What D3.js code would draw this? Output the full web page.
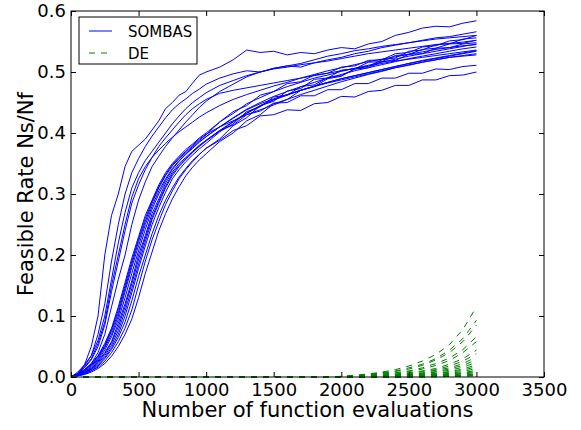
<!DOCTYPE html>
<html>
<head>
  <meta charset="utf-8">
  <title>Feasible rate - SOMBAS vs DE</title>
  <script src="https://d3js.org/d3.v7.min.js"></script>
  <style>
    body { margin: 0; background: #fff; font-family: 'DejaVu Sans', sans-serif; }
    .tick text { font-size: 18px; fill: #000; }
    .tick line { stroke: #000; }
    .axis-label { font-size: 21px; fill: #000; }
    .legend text { font-size: 15px; fill: #000; }
  </style>
</head>
<body>
<div id="chart"></div>
<script>
// evaluations at which the SOMBAS runs are sampled (finer during the rise)
var sombasEvals = [0,50,100,150,200,250,300,350,400,450,500,550,600,650,700,750,800,850,900,950,1000,
  1100,1200,1300,1400,1500,1600,1700,1800,1900,2000,2100,2200,2300,2400,2500,2600,2700,2800,2900,3000];
// evaluations at which the DE runs are sampled
var deEvals = [0, 1900, 2000, 2100, 2200, 2300, 2400, 2500, 2600, 2700, 2800, 2900, 3000];

var xTicks = [0, 500, 1000, 1500, 2000, 2500, 3000, 3500];
var yTicks = [0, 0.1, 0.2, 0.3, 0.4, 0.5, 0.6];

// fast-rising runs
var sombasFast = [
  [0,.005,.02,.05,.10,.20,.265,.30,.345,.37,.38,.39,.405,.42,.44,.45,.462,.468,.482,.495,.50,.508,.52,.536,.532,.534,.528,.532,.53,.536,.54,.538,.546,.55,.56,.565,.572,.575,.574,.58,.584],
  [0,.006,.018,.035,.07,.12,.19,.25,.30,.335,.358,.378,.395,.41,.425,.438,.448,.456,.465,.472,.48,.49,.497,.502,.50,.506,.51,.508,.515,.52,.524,.53,.534,.54,.544,.548,.552,.556,.558,.562,.566],
  [0,.008,.02,.035,.06,.10,.16,.22,.27,.31,.335,.355,.37,.385,.40,.415,.428,.44,.45,.458,.466,.478,.486,.494,.50,.505,.508,.512,.515,.518,.522,.526,.53,.533,.536,.539,.542,.545,.547,.549,.552],
  [0,.005,.015,.028,.05,.085,.14,.19,.24,.285,.315,.34,.36,.378,.392,.405,.418,.43,.44,.448,.455,.465,.47,.474,.478,.482,.486,.49,.494,.498,.502,.506,.51,.514,.518,.521,.524,.527,.53,.533,.536],
  [0,.004,.012,.022,.04,.07,.115,.16,.20,.25,.29,.32,.345,.362,.378,.392,.405,.418,.43,.442,.452,.468,.48,.492,.50,.506,.51,.514,.52,.526,.53,.535,.538,.542,.545,.548,.551,.554,.556,.558,.56],
  [0,.006,.016,.03,.055,.09,.15,.20,.25,.295,.325,.345,.36,.372,.383,.393,.402,.41,.418,.426,.433,.445,.455,.463,.47,.477,.483,.49,.496,.502,.507,.512,.517,.521,.525,.529,.533,.537,.54,.543,.545]
];

// slower main bundle
var sombasSlow = [
  [0,.005,.012,.022,.035,.055,.08,.115,.155,.195,.23,.265,.29,.315,.335,.35,.362,.373,.382,.392,.40,.418,.435,.445,.462,.468,.481,.484,.495,.498,.508,.51,.519,.52,.53,.532,.541,.543,.551,.553,.56],
  [0,.002,.005,.01,.018,.03,.045,.065,.09,.125,.165,.20,.235,.265,.29,.31,.328,.342,.355,.365,.375,.388,.404,.412,.428,.43,.438,.437,.448,.45,.46,.459,.468,.47,.478,.478,.487,.487,.494,.495,.50],
  [0,.003,.008,.014,.026,.04,.058,.088,.12,.158,.20,.232,.268,.292,.318,.336,.35,.36,.37,.38,.388,.404,.413,.43,.436,.449,.45,.461,.461,.471,.471,.481,.481,.49,.49,.498,.498,.505,.504,.509,.511],
  [0,.004,.01,.018,.03,.048,.07,.10,.14,.18,.215,.25,.28,.305,.325,.342,.355,.366,.376,.386,.394,.41,.424,.438,.448,.456,.463,.47,.476,.482,.487,.492,.497,.502,.507,.512,.516,.52,.524,.526,.528],
  [0,.002,.005,.01,.016,.026,.04,.058,.08,.11,.15,.19,.225,.255,.283,.305,.325,.34,.353,.365,.375,.39,.412,.425,.445,.452,.469,.473,.488,.49,.503,.505,.516,.517,.527,.529,.537,.539,.546,.547,.552],
  [0,.003,.007,.013,.022,.035,.052,.076,.108,.145,.185,.222,.258,.285,.31,.33,.345,.357,.368,.378,.387,.403,.418,.432,.444,.454,.462,.47,.477,.483,.489,.494,.499,.504,.509,.514,.519,.523,.527,.531,.535],
  [0,.004,.011,.02,.032,.05,.075,.105,.145,.185,.222,.255,.285,.31,.33,.346,.358,.368,.378,.388,.397,.418,.432,.448,.458,.468,.476,.483,.49,.495,.501,.506,.511,.516,.521,.526,.53,.534,.538,.542,.546],
  [0,.002,.006,.012,.02,.032,.048,.07,.10,.138,.178,.215,.25,.278,.303,.325,.34,.353,.364,.374,.383,.402,.415,.435,.443,.459,.462,.476,.479,.491,.494,.505,.507,.517,.519,.529,.53,.539,.54,.546,.548],
  [0,.003,.008,.014,.024,.038,.056,.082,.115,.153,.193,.228,.262,.288,.313,.333,.347,.358,.369,.379,.388,.404,.419,.433,.445,.455,.463,.47,.477,.483,.489,.494,.499,.504,.509,.514,.518,.522,.526,.53,.534],
  [0,.004,.009,.016,.028,.044,.066,.094,.13,.17,.207,.242,.275,.30,.322,.34,.354,.365,.375,.385,.394,.41,.425,.439,.45,.46,.468,.476,.483,.49,.496,.502,.507,.512,.517,.522,.526,.53,.534,.538,.541],
  [0,.002,.004,.008,.014,.022,.034,.05,.07,.095,.13,.17,.205,.24,.268,.292,.312,.33,.344,.356,.366,.386,.40,.42,.43,.448,.455,.47,.476,.489,.493,.505,.509,.52,.523,.534,.536,.545,.546,.554,.556],
  [0,.005,.012,.02,.034,.052,.078,.11,.15,.19,.226,.26,.288,.312,.332,.348,.36,.37,.38,.39,.398,.41,.42,.43,.438,.446,.455,.463,.47,.477,.484,.49,.496,.501,.507,.511,.516,.52,.524,.527,.53]
];

var deRuns = [
  [0,0,.001,.003,.005,.008,.012,.018,.026,.037,.053,.078,.115],
  [0,0,.001,.002,.004,.007,.010,.015,.021,.030,.044,.063,.093],
  [0,0,.001,.002,.004,.006,.009,.013,.019,.028,.040,.058,.085],
  [0,0,0,.001,.003,.005,.007,.010,.015,.022,.031,.045,.066],
  [0,0,0,.001,.003,.004,.006,.009,.013,.019,.027,.040,.058],
  [0,0,0,.001,.002,.003,.005,.007,.010,.014,.021,.030,.044],
  [0,0,0,.001,.002,.003,.004,.006,.009,.012,.018,.026,.038],
  [0,0,0,0,.001,.002,.003,.005,.007,.011,.015,.022,.033],
  [0,0,0,0,.001,.002,.003,.004,.006,.009,.013,.019,.028],
  [0,0,0,0,.001,.002,.003,.004,.005,.008,.011,.016,.024],
  [0,0,0,0,.001,.001,.002,.003,.004,.006,.009,.013,.020],
  [0,0,0,0,0,.001,.002,.003,.004,.005,.008,.011,.017],
  [0,0,0,0,0,.001,.001,.002,.003,.004,.006,.009,.014],
  [0,0,0,0,0,.001,.001,.002,.002,.003,.005,.007,.011],
  [0,0,0,0,0,0,.001,.001,.002,.003,.004,.006,.009],
  [0,0,0,0,0,0,.001,.001,.001,.002,.003,.005,.007],
  [0,0,0,0,0,0,0,.001,.001,.002,.002,.003,.005],
  [0,0,0,0,0,0,0,0,.001,.001,.002,.003,.004],
  [0,0,0,0,0,0,0,0,0,.001,.001,.002,.003],
  [0,0,0,0,0,0,0,0,0,0,.001,.001,.002]
];

var sombasRuns = sombasFast.concat(sombasSlow);

var margin = {top: 11, right: 37, bottom: 53, left: 71},
    width = 581 - margin.left - margin.right,
    height = 430 - margin.top - margin.bottom;

var svg = d3.select("#chart")
  .append("svg")
  .attr("width", 581)
  .attr("height", 430)
  .append("g")
  .attr("transform", "translate(" + margin.left + "," + margin.top + ")");

var x = d3.scaleLinear().domain([0, 3500]).range([0, width]);
var y = d3.scaleLinear().domain([0, 0.6]).range([height, 0]);

var line = d3.line()
  .x(d => x(d[0]))
  .y(d => y(d[1]));

// SOMBAS runs
svg.selectAll(".sombas")
  .data(sombasRuns)
  .enter()
  .append("path")
  .attr("class", "sombas")
  .attr("fill", "none")
  .attr("stroke", "#0000ff")
  .attr("stroke-width", 1)
  .attr("d", run => line(run.map((v, i) => [sombasEvals[i], v])));

// DE runs
svg.selectAll(".de")
  .data(deRuns)
  .enter()
  .append("path")
  .attr("class", "de")
  .attr("fill", "none")
  .attr("stroke", "#008000")
  .attr("stroke-width", 1)
  .attr("stroke-dasharray", "6,6")
  .attr("d", run => line(run.map((v, i) => [deEvals[i], v])));

// axes, ticks pointing inward on all four sides
var gx = svg.append("g")
  .attr("transform", "translate(0," + height + ")")
  .call(d3.axisBottom(x).tickValues(xTicks).tickFormat(d3.format("d")).tickSizeInner(-5).tickSizeOuter(0).tickPadding(6));
var gy = svg.append("g")
  .call(d3.axisLeft(y).tickValues(yTicks).tickFormat(d3.format(".1f")).tickSizeInner(-5).tickSizeOuter(0).tickPadding(5));
var gt = svg.append("g")
  .call(d3.axisTop(x).tickValues(xTicks).tickFormat("").tickSizeInner(-5).tickSizeOuter(0));
var gr = svg.append("g")
  .attr("transform", "translate(" + width + ",0)")
  .call(d3.axisRight(y).tickValues(yTicks).tickFormat("").tickSizeInner(-5).tickSizeOuter(0));

[gx, gy, gt, gr].forEach(g => {
  g.select(".domain").remove();
  g.attr("font-family", null).attr("font-size", null);
});

svg.append("rect")
  .attr("width", width)
  .attr("height", height)
  .attr("fill", "none")
  .attr("stroke", "#000")
  .attr("stroke-width", 1);

// axis labels
svg.append("text")
  .attr("class", "axis-label")
  .attr("x", width / 2)
  .attr("y", height + 40)
  .attr("text-anchor", "middle")
  .text("Number of function evaluations");

svg.append("text")
  .attr("class", "axis-label")
  .attr("transform", "rotate(-90)")
  .attr("x", -height / 2)
  .attr("y", -38)
  .attr("text-anchor", "middle")
  .text("Feasible Rate Ns/Nf");

// legend
var legend = svg.append("g")
  .attr("class", "legend")
  .attr("transform", "translate(8,6)");

legend.append("rect")
  .attr("width", 118)
  .attr("height", 47)
  .attr("fill", "#fff")
  .attr("stroke", "#000")
  .attr("stroke-width", 1);

var legendItems = [
  {name: "SOMBAS", color: "#0000ff", dash: null},
  {name: "DE", color: "#008000", dash: "6,6"}
];

legendItems.forEach((item, i) => {
  var ly = 14 + i * 22;
  legend.append("line")
    .attr("x1", 10).attr("x2", 33)
    .attr("y1", ly).attr("y2", ly)
    .attr("stroke", item.color)
    .attr("stroke-width", 1)
    .attr("stroke-dasharray", item.dash);
  legend.append("text")
    .attr("x", 49)
    .attr("y", ly + 6)
    .text(item.name);
});
</script>
</body>
</html>
